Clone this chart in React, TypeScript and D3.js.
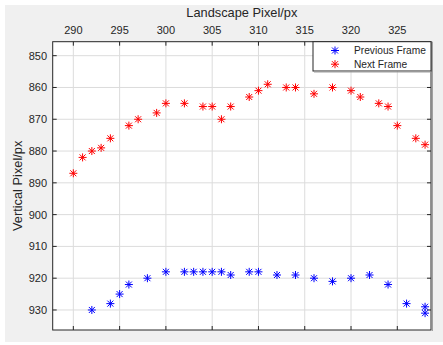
import React from "react";
import * as d3 from "d3";

const prevX = [292, 294, 295, 296, 298, 300, 302, 303, 304, 305, 306, 307, 309, 310, 312, 314, 316, 318, 320, 322, 324, 326, 328, 328];
const prevY = [930, 928, 925, 922, 920, 918, 918, 918, 918, 918, 918, 919, 918, 918, 919, 919, 920, 921, 920, 919, 922, 928, 929, 931];
const nextX = [290, 291, 292, 293, 294, 296, 297, 299, 300, 302, 304, 305, 306, 307, 309, 310, 311, 313, 314, 316, 318, 320, 321, 323, 324, 325, 327, 328];
const nextY = [887, 882, 880, 879, 876, 872, 870, 868, 865, 865, 866, 866, 870, 866, 863, 861, 859, 860, 860, 862, 860, 861, 863, 865, 866, 872, 876, 878];
const xTicks = [290, 295, 300, 305, 310, 315, 320, 325];
const yTicks = [850, 860, 870, 880, 890, 900, 910, 920, 930];
const seriesNames = ["Previous Frame", "Next Frame"];
const seriesColors = ["#0000ff", "#ff0000"];

const W = 443, H = 345;
const L = 52.7, R = 431, T = 41.7, B = 330;
const FONT = "'Liberation Sans', Arial, Helvetica, sans-serif";
const TXT = "#262626";

function Star({ x, y, color }: { x: number; y: number; color: string }) {
  const r = 4, d = 3;
  return (
    <g stroke={color} strokeWidth={1}>
      <line x1={x - r} y1={y} x2={x + r} y2={y} />
      <line x1={x} y1={y - r} x2={x} y2={y + r} />
      <line x1={x - d} y1={y - d} x2={x + d} y2={y + d} />
      <line x1={x - d} y1={y + d} x2={x + d} y2={y - d} />
    </g>
  );
}

export default function App() {
  const x = d3.scaleLinear().domain([287.77, 328.64]).range([L, R]);
  const y = d3.scaleLinear().domain([845.6, 936.3]).range([T, B]);
  const tl = 4;
  return (
    <svg width={W} height={H} style={{ position: "absolute", left: 0, top: 0 }}>
      <rect x={0} y={0} width={W} height={H} fill="#ffffff" />
      <rect x={5} y={5} width={W - 5} height={337} fill="#f0f0f0" />
      <rect x={L} y={T} width={R - L} height={B - T} fill="#ffffff" />
      {/* grid */}
      {xTicks.map((t) => (
        <line key={"gx" + t} x1={x(t)} x2={x(t)} y1={T} y2={B} stroke="#dcdcdc" strokeWidth={1} />
      ))}
      {yTicks.map((t) => (
        <line key={"gy" + t} x1={L} x2={R} y1={y(t)} y2={y(t)} stroke="#dcdcdc" strokeWidth={1} />
      ))}
      {/* ticks */}
      {xTicks.map((t) => (
        <g key={"tx" + t} stroke="#262626" strokeWidth={1}>
          <line x1={x(t)} x2={x(t)} y1={T} y2={T + tl} />
          <line x1={x(t)} x2={x(t)} y1={B} y2={B - tl} />
        </g>
      ))}
      {yTicks.map((t) => (
        <g key={"ty" + t} stroke="#262626" strokeWidth={1}>
          <line x1={L} x2={L + tl} y1={y(t)} y2={y(t)} />
          <line x1={R} x2={R - tl} y1={y(t)} y2={y(t)} />
        </g>
      ))}
      {/* data */}
      {prevX.map((v, i) => (
        <Star key={"p" + i} x={x(v)} y={y(prevY[i])} color={seriesColors[0]} />
      ))}
      {nextX.map((v, i) => (
        <Star key={"n" + i} x={x(v)} y={y(nextY[i])} color={seriesColors[1]} />
      ))}
      {/* frame */}
      <rect x={L} y={T} width={R - L} height={B - T} fill="none" stroke="#262626" strokeWidth={1} />
      <line x1={R + 1.5} x2={R + 1.5} y1={T} y2={B + 1} stroke="#a0a0a0" strokeWidth={1} />
      {/* tick labels */}
      {xTicks.map((t) => (
        <text key={"lx" + t} x={x(t)} y={34} textAnchor="middle" fontFamily={FONT} fontSize={11} fill={TXT}>
          {t}
        </text>
      ))}
      {yTicks.map((t) => (
        <text key={"ly" + t} x={47} y={y(t) + 4} textAnchor="end" fontFamily={FONT} fontSize={11} fill={TXT}>
          {t}
        </text>
      ))}
      <text x={(L + R) / 2} y={16.5} textAnchor="middle" fontFamily={FONT} fontSize={12.8} fill={TXT}>
        Landscape Pixel/px
      </text>
      <text
        transform={`translate(21.5,${(T + B) / 2}) rotate(-90)`}
        textAnchor="middle"
        fontFamily={FONT}
        fontSize={12.8}
        fill={TXT}
      >
        Vertical Pixel/px
      </text>
      {/* legend */}
      <rect x={313} y={T} width={R - 313} height={71 - T} fill="#ffffff" stroke="#262626" strokeWidth={1} />
      <line x1={314} x2={R} y1={72} y2={72} stroke="#a0a0a0" />
      {seriesNames.map((n, i) => (
        <g key={n}>
          <Star x={335} y={50.5 + i * 13.7} color={seriesColors[i]} />
          <text x={354} y={50.5 + i * 13.7 + 3.5} fontFamily={FONT} fontSize={10.2} fill={TXT}>
            {n}
          </text>
        </g>
      ))}
    </svg>
  );
}
